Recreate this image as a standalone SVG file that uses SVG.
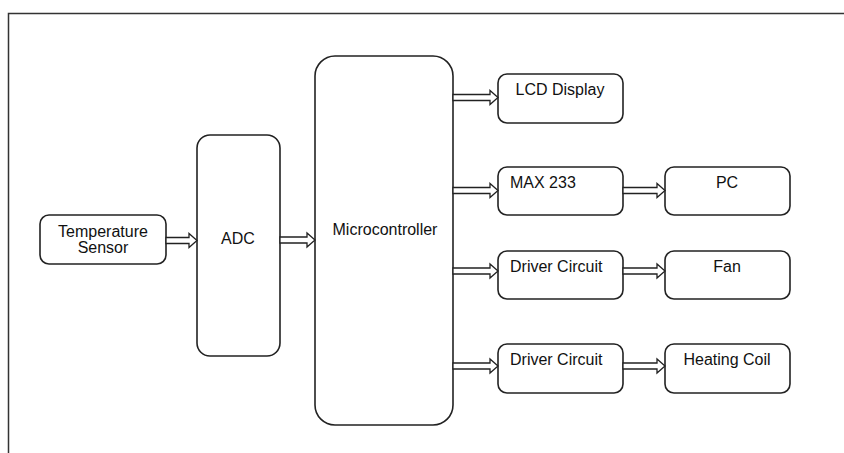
<svg xmlns="http://www.w3.org/2000/svg" width="844" height="453" viewBox="0 0 844 453">
<style>
.box{fill:#fff;stroke:#222;stroke-width:1.6}
.t{font-family:"Liberation Sans",Arial,sans-serif;font-size:16px;fill:#111}
.c{text-anchor:middle}
.ar{fill:#fff;stroke:#222;stroke-width:1.3;stroke-linejoin:miter}
</style>
<rect width="844" height="453" fill="#fff"/>
<path d="M8.5,453 V13.5 H844" fill="none" stroke="#333" stroke-width="1.5"/>
<g id="temp"><rect class="box" x="40" y="215" width="126" height="49" rx="9"/><text class="t c" x="103" y="237">Temperature</text><text class="t c" x="103" y="253">Sensor</text></g>
<g id="adc"><rect class="box" x="197" y="135" width="83" height="221" rx="13"/><text class="t c" x="238" y="244">ADC</text></g>
<g id="mcu"><rect class="box" x="315" y="56" width="138" height="369" rx="20"/><text class="t c" x="385" y="235">Microcontroller</text></g>
<g id="lcd"><rect class="box" x="498" y="74" width="125" height="49" rx="9"/><text class="t c" x="560" y="95">LCD Display</text></g>
<g id="max"><rect class="box" x="498" y="167" width="125" height="48" rx="9"/><text class="t" x="510" y="188">MAX 233</text></g>
<g id="pc"><rect class="box" x="665" y="167" width="125" height="48" rx="9"/><text class="t c" x="727" y="188">PC</text></g>
<g id="drv1"><rect class="box" x="498" y="251" width="125" height="48" rx="9"/><text class="t" x="510" y="272">Driver Circuit</text></g>
<g id="fan"><rect class="box" x="665" y="251" width="125" height="48" rx="9"/><text class="t c" x="727" y="272">Fan</text></g>
<g id="drv2"><rect class="box" x="498" y="344" width="125" height="49" rx="9"/><text class="t" x="510" y="365">Driver Circuit</text></g>
<g id="coil"><rect class="box" x="665" y="344" width="125" height="49" rx="9"/><text class="t c" x="727" y="365">Heating Coil</text></g>
<g id="connectors">
<path class="ar" d="M166,237.5 H189 V233.5 L197,240.5 L189,247.5 V243.5 H166 Z"/>
<path class="ar" d="M280,237 H307 V233 L315,240 L307,247 V243 H280 Z"/>
<path class="ar" d="M453,94.5 H490 V90.5 L498,97.5 L490,104.5 V100.5 H453 Z"/>
<path class="ar" d="M453,187.5 H490 V183.5 L498,190.5 L490,197.5 V193.5 H453 Z"/>
<path class="ar" d="M623,187.5 H657 V183.5 L665,190.5 L657,197.5 V193.5 H623 Z"/>
<path class="ar" d="M453,268 H490 V264 L498,271 L490,278 V274 H453 Z"/>
<path class="ar" d="M623,268 H657 V264 L665,271 L657,278 V274 H623 Z"/>
<path class="ar" d="M453,363 H490 V359 L498,366 L490,373 V369 H453 Z"/>
<path class="ar" d="M623,363 H657 V359 L665,366 L657,373 V369 H623 Z"/>
</g>
</svg>
